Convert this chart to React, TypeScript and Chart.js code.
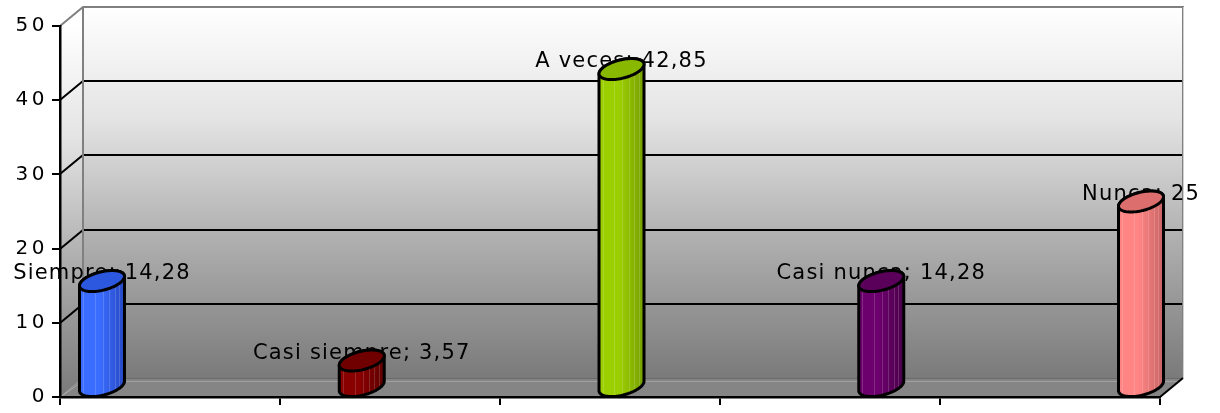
import React, { useEffect, useRef } from 'react';
import { Chart, registerables } from 'chart.js';

Chart.register(...registerables);

// ---- data ----
const categories = ['Siempre', 'Casi siempre', 'A veces', 'Casi nunca', 'Nunca'];
const values = [14.28, 3.57, 42.85, 14.28, 25];
const yTicks = [0, 10, 20, 30, 40, 50];

// ---- styles ----
const barLight = ['#3a6dff', '#880000', '#9ccf00', '#6c006c', '#ff8484'];
const barDark = ['#2748c4', '#5e0000', '#76a000', '#4a004a', '#c86464'];
const barTopColor = ['#2c58e0', '#700000', '#88b800', '#5a005a', '#dc6e6e'];

const W = 1220;
const H = 413;
const DX = 23; // depth offset x
const DY = -19; // depth offset y
const X_MIN = -0.1617;
const X_MAX = 4.0731;
const FONT = '"DejaVu Sans", Verdana, sans-serif';

function fmt(v: number) {
  return String(v).replace('.', ',');
}

const wallsPlugin = {
  id: 'walls3d',
  beforeDraw(chart: any) {
    const { ctx, chartArea } = chart;
    const { left, right, top, bottom } = chartArea;
    const y = chart.scales.y;
    ctx.save();
    const mk = (y0: number, y1: number) => {
      const g = ctx.createLinearGradient(0, y0, 0, y1);
      g.addColorStop(0, '#ffffff');
      g.addColorStop(0.3, '#e4e4e4');
      g.addColorStop(0.62, '#b0b0b0');
      g.addColorStop(1, '#7a7a7a');
      return g;
    };
    // back wall
    ctx.fillStyle = mk(top + DY, bottom + DY);
    ctx.fillRect(left + DX, top + DY, right - left, bottom - top);
    // left wall
    ctx.fillStyle = mk(top, bottom);
    ctx.beginPath();
    ctx.moveTo(left, top);
    ctx.lineTo(left + DX, top + DY);
    ctx.lineTo(left + DX, bottom + DY);
    ctx.lineTo(left, bottom);
    ctx.closePath();
    ctx.fill();
    // floor
    ctx.fillStyle = '#858585';
    ctx.beginPath();
    ctx.moveTo(left, bottom);
    ctx.lineTo(right, bottom);
    ctx.lineTo(right + DX, bottom + DY);
    ctx.lineTo(left + DX, bottom + DY);
    ctx.closePath();
    ctx.fill();
    // floor back rim
    ctx.strokeStyle = '#a0a0a0';
    ctx.lineWidth = 1;
    ctx.beginPath();
    ctx.moveTo(left + DX - 3, bottom + DY + 3.5);
    ctx.lineTo(right + DX - 3, bottom + DY + 3.5);
    ctx.stroke();
    ctx.strokeStyle = '#6a6a6a';
    ctx.beginPath();
    ctx.moveTo(left + DX, bottom + DY + 0.5);
    ctx.lineTo(right + DX, bottom + DY + 0.5);
    ctx.stroke();
    // faint diagonal near left wall bottom
    ctx.strokeStyle = '#a8a8a8';
    ctx.beginPath();
    ctx.moveTo(left + 2, bottom - 1);
    ctx.lineTo(left + DX, bottom + DY + 3);
    ctx.stroke();
    // grid lines
    ctx.strokeStyle = '#000000';
    ctx.lineWidth = 2;
    for (const t of yTicks) {
      if (t <= 0 || t >= 50) continue;
      const yy = Math.round(y.getPixelForValue(t));
      ctx.beginPath();
      ctx.moveTo(left, yy);
      ctx.lineTo(left + DX, yy + DY);
      ctx.lineTo(right + DX, yy + DY);
      ctx.stroke();
    }
    // wall borders (gray)
    ctx.strokeStyle = '#808080';
    ctx.lineWidth = 2;
    ctx.beginPath();
    ctx.moveTo(left, top);
    ctx.lineTo(left + DX, top + DY);
    ctx.lineTo(right + DX, top + DY);
    ctx.lineTo(right + DX, bottom + DY);
    ctx.stroke();
    ctx.beginPath();
    ctx.moveTo(left + DX, top + DY);
    ctx.lineTo(left + DX, bottom + DY);
    ctx.stroke();
    ctx.strokeStyle = '#d0d0d0';
    ctx.lineWidth = 1;
    ctx.beginPath();
    ctx.moveTo(right + DX + 0.5, top + DY);
    ctx.lineTo(right + DX + 0.5, bottom + DY);
    ctx.stroke();
    // floor right edge
    ctx.strokeStyle = '#000000';
    ctx.lineWidth = 2;
    ctx.beginPath();
    ctx.moveTo(right, bottom);
    ctx.lineTo(right + DX, bottom + DY);
    ctx.stroke();
    ctx.restore();
    ctx.letterSpacing = '3.5px';
  },
  beforeDatasetsDraw(chart: any) {
    const { ctx } = chart;
    const meta = chart.getDatasetMeta(0);
    ctx.save();
    ctx.letterSpacing = '1.2px';
    ctx.font = '21px ' + FONT;
    ctx.fillStyle = '#000000';
    ctx.textAlign = 'center';
    ctx.textBaseline = 'alphabetic';
    meta.data.forEach((el: any, i: number) => {
      const p = el.getProps(['x', 'y'], true);
      ctx.fillText(categories[i] + '; ' + fmt(values[i]), p.x, p.y - 12);
    });
    ctx.restore();
  },
  afterDatasetsDraw(chart: any) {
    const { ctx } = chart;
    const meta = chart.getDatasetMeta(0);
    ctx.save();
    ctx.letterSpacing = '0px';
    meta.data.forEach((el: any, i: number) => {
      const p = el.getProps(['x', 'y', 'base', 'width'], true);
      const hw = p.width / 2;
      const R = hw * 0.893;
      const a = hw * 0.45;
      const b = 10.5;
      const off = -10;
      const tc = { x: p.x, y: p.y + off };
      const bc = { x: p.x, y: p.base + off };
      const E = (c: any, th: number) => [c.x + R * Math.cos(th) + a * Math.sin(th), c.y - b * Math.sin(th)];
      const phi = Math.atan2(a, R);
      const N = 40;
      // body silhouette
      const body = new Path2D();
      let pt = E(tc, Math.PI + phi);
      body.moveTo(pt[0], pt[1]);
      pt = E(bc, Math.PI + phi);
      body.lineTo(pt[0], pt[1]);
      for (let k = 1; k <= N; k++) {
        pt = E(bc, Math.PI + phi + (Math.PI * k) / N);
        body.lineTo(pt[0], pt[1]);
      }
      pt = E(tc, phi);
      body.lineTo(pt[0], pt[1]);
      for (let k = 1; k <= N; k++) {
        pt = E(tc, phi + (Math.PI * k) / N);
        body.lineTo(pt[0], pt[1]);
      }
      body.closePath();
      const g = ctx.createLinearGradient(p.x - hw, 0, p.x + hw, 0);
      g.addColorStop(0, barLight[i]);
      g.addColorStop(0.45, barLight[i]);
      g.addColorStop(1, barDark[i]);
      ctx.fillStyle = g;
      ctx.fill(body);
      // facet stripes
      ctx.save();
      ctx.clip(body);
      ctx.strokeStyle = 'rgba(255,255,255,0.16)';
      ctx.lineWidth = 1;
      [0.08, 0.34, 0.52, 0.66, 0.78, 0.88].forEach((f) => {
        const xx = Math.round(p.x - hw + f * 2 * hw) + 0.5;
        ctx.beginPath();
        ctx.moveTo(xx, tc.y - b - 2);
        ctx.lineTo(xx, bc.y + b + 2);
        ctx.stroke();
      });
      ctx.restore();
      ctx.strokeStyle = '#000000';
      ctx.lineWidth = 3;
      ctx.lineJoin = 'round';
      ctx.stroke(body);
      // top ellipse
      const topP = new Path2D();
      for (let k = 0; k <= 2 * N; k++) {
        pt = E(tc, (Math.PI * k) / N);
        if (k === 0) topP.moveTo(pt[0], pt[1]);
        else topP.lineTo(pt[0], pt[1]);
      }
      topP.closePath();
      ctx.fillStyle = barTopColor[i];
      ctx.fill(topP);
      ctx.stroke(topP);
    });
    ctx.restore();
  },
  afterDraw(chart: any) {
    chart.ctx.letterSpacing = '0px';
  },
};

export default function App() {
  const ref = useRef<HTMLCanvasElement | null>(null);
  useEffect(() => {
    if (!ref.current) return;
    Chart.defaults.font.family = FONT;
    const chart = new Chart(ref.current, {
      type: 'bar',
      data: {
        datasets: [
          {
            label: 'Serie',
            data: categories.map((c, i) => ({ x: i, y: values[i] })) as any,
            backgroundColor: 'rgba(0,0,0,0)',
            borderWidth: 0,
            barThickness: 45,
          },
        ],
      },
      options: {
        responsive: false,
        animation: false,
        events: [],
        layout: { padding: { top: 26, right: 60, left: 0, bottom: 0 } },
        plugins: { legend: { display: false }, tooltip: { enabled: false } },
        scales: {
          x: {
            type: 'linear',
            min: X_MIN,
            max: X_MAX,
            offset: false,
            afterBuildTicks: (scale: any) => {
              const ticks = [];
              for (let k = 0; k <= categories.length; k++) {
                ticks.push({ value: X_MIN + (k * (X_MAX - X_MIN)) / categories.length });
              }
              scale.ticks = ticks;
            },
            afterFit: (scale: any) => {
              scale.height = 13;
            },
            ticks: { display: false },
            grid: {
              offset: false,
              drawOnChartArea: false,
              drawTicks: true,
              tickLength: 8,
              color: '#000000',
              lineWidth: 2,
            },
            border: { display: true, color: '#000000', width: 2.5 },
          },
          y: {
            type: 'linear',
            min: 0,
            max: 50,
            afterBuildTicks: (scale: any) => {
              scale.ticks = yTicks.map((v) => ({ value: v }));
            },
            afterFit: (scale: any) => {
              scale.width = 60;
            },
            ticks: {
              color: '#000000',
              padding: 4,
              font: { size: 20, family: FONT },
            },
            grid: {
              drawOnChartArea: false,
              drawTicks: true,
              tickLength: 8,
              color: '#000000',
              lineWidth: 2,
            },
            border: { display: true, color: '#000000', width: 2.5 },
          },
        },
      },
      plugins: [wallsPlugin],
    });
    return () => chart.destroy();
  }, []);
  return (
    <div style={{ position: 'fixed', left: 0, top: 0, width: W, height: H, background: '#ffffff' }}>
      <canvas ref={ref} width={W} height={H} style={{ display: 'block' }} />
    </div>
  );
}
